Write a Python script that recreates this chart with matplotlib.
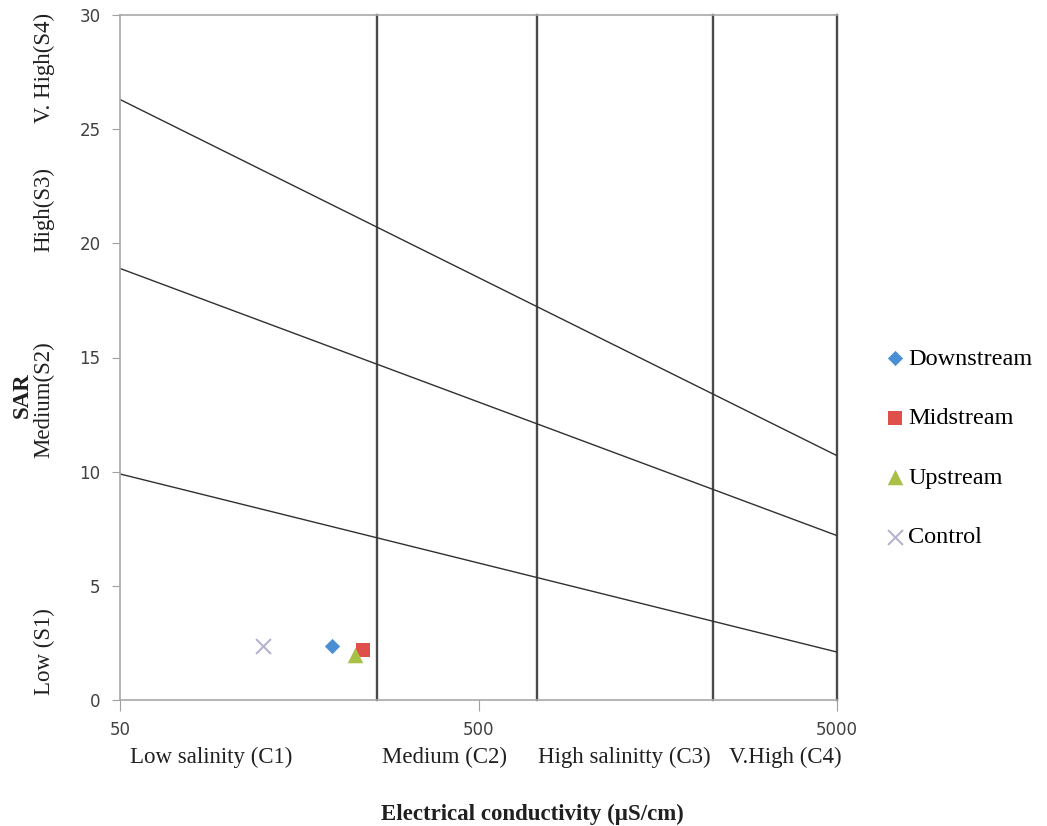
import matplotlib.pyplot as plt
import numpy as np

# sample points (EC in uS/cm, SAR)
sites = ["Downstream", "Midstream", "Upstream", "Control"]
ec = [195, 238, 226, 125]
sar = [2.37, 2.2, 1.97, 2.37]
markers = ["D", "s", "^", "x"]
colors = ["#4a8fd4", "#e0504a", "#a9c046", "#b8b2d0"]
sizes = [60, 115, 125, 115]

# salinity class boundaries and SAR hazard lines (values at EC=50 and EC=5000)
ec_bounds = [260, 728, 2250, 5000]
line_ends_ec = [50, 5000]
sar_lines = [[26.3, 10.7], [18.9, 7.2], [9.9, 2.1]]

ec_classes = ["Low salinity (C1)", "Medium (C2)", "High salinitty (C3)", "V.High (C4)"]
ec_class_pos = [211, 444, 624, 785]  # pixel centres
sar_classes = ["Low (S1)", "Medium(S2)", "High(S3)", "V. High(S4)"]

serif = "Liberation Serif"

fig = plt.figure(figsize=(10.47, 8.26), dpi=100)
ax = fig.add_axes([120 / 1047, 1 - 700 / 826, 717 / 1047, 685 / 826])

ax.set_xscale("log")
ax.set_xlim(50, 5000)
ax.set_ylim(0, 30)

for b in ec_bounds:
    ax.axvline(b, color="#4a4a4a", lw=1.7, zorder=1, clip_on=False)

for ys in sar_lines:
    ax.plot(line_ends_ec, ys, color="#303030", lw=1.0, zorder=1)

handles = []
for name, x, y, m, c, s in zip(sites, ec, sar, markers, colors, sizes):
    h = ax.scatter([x], [y], marker=m, color=c, s=s, label=name, zorder=3,
                   linewidths=1.5 if m == "x" else 0)
    handles.append(h)

ax.set_xticks([50, 500, 5000])
ax.set_xticklabels(["50", "500", "5000"])
ax.minorticks_off()
ax.set_yticks(range(0, 31, 5))
ax.tick_params(axis="both", colors="#a0a0a0", labelcolor="#404040", labelsize=12,
               direction="out")
ax.tick_params(axis="x", length=8, pad=7)
ax.tick_params(axis="y", length=6, pad=8)
for lab in ax.get_xticklabels() + ax.get_yticklabels():
    lab.set_family("DejaVu Sans")

ax.spines["right"].set_visible(False)
for sp in ["left", "bottom", "top"]:
    ax.spines[sp].set_color("#a8a8a8")
    ax.spines[sp].set_linewidth(1.2)

# salinity class labels under the axis
for txt, px in zip(ec_classes, ec_class_pos):
    fig.text(px / 1047, 1 - 763 / 826, txt, ha="center", va="baseline",
             family=serif, fontsize=16.5, color="#202020")

fig.text(532 / 1047, 1 - 820 / 826, "Electrical conductivity (\u00b5S/cm)",
         ha="center", va="baseline", family=serif, fontsize=16.5,
         fontweight="bold", color="#202020")

# SAR class labels along the y axis
sar_pos = [652, 400, 210, 68]
for txt, py in zip(sar_classes, sar_pos):
    fig.text(44 / 1047, 1 - py / 826, txt, ha="center", va="center",
             rotation=90, family=serif, fontsize=16.5, color="#202020")
fig.text(22 / 1047, 1 - 395 / 826, "SAR", ha="center", va="center",
         rotation=90, family=serif, fontsize=16.5, fontweight="bold",
         color="#202020")

fig.legend(handles=handles, loc="upper left",
           bbox_to_anchor=(873 / 1047, 1 - 338 / 826), frameon=False,
           prop={"family": serif, "size": 17.5}, labelspacing=1.54,
           handletextpad=0.05, handlelength=1.0, borderaxespad=0)

fig.savefig("out.png", dpi=100)
